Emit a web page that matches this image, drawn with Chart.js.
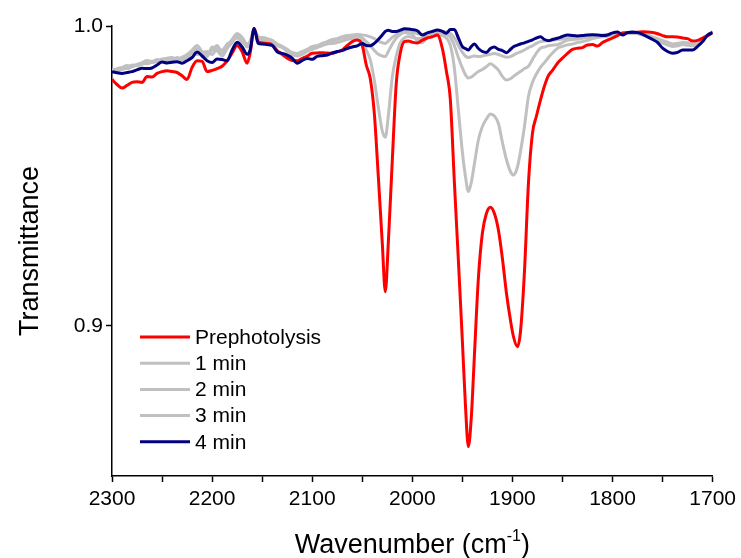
<!DOCTYPE html>
<html>
<head>
<meta charset="utf-8">
<script src="https://cdn.jsdelivr.net/npm/chart.js@4/dist/chart.umd.min.js"></script>
<style>
  html, body { margin: 0; padding: 0; background: #fff; }
  #wrap { width: 741px; height: 558px; position: relative; }
</style>
</head>
<body>
<div id="wrap"><canvas id="ir" width="741" height="558"></canvas></div>
<script>
// IR spectra in the carbonyl region, wavenumber in cm^-1
const wavenumber = [
  2300, 2295, 2290, 2285, 2280, 2275, 2270, 2265, 2260, 2255,
  2250, 2245, 2240, 2235, 2230, 2225, 2220, 2215, 2210, 2205,
  2200, 2195, 2190, 2185, 2180, 2175, 2170, 2165, 2162, 2158,
  2154, 2150, 2145, 2140, 2135, 2130, 2125, 2120, 2115, 2110,
  2105, 2100, 2095, 2090, 2085, 2080, 2075, 2070, 2065, 2060,
  2055, 2050, 2046, 2042, 2038, 2034, 2030, 2027, 2024, 2020,
  2016, 2012, 2008, 2004, 2000, 1995, 1990, 1985, 1980, 1975,
  1970, 1966, 1962, 1958, 1954, 1950, 1947, 1944, 1941, 1938,
  1934, 1930, 1926, 1922, 1918, 1914, 1910, 1906, 1902, 1899,
  1895, 1892, 1888, 1884, 1880, 1876, 1872, 1868, 1864, 1860,
  1855, 1850, 1845, 1840, 1835, 1830, 1825, 1820, 1815, 1810,
  1805, 1800, 1795, 1790, 1785, 1780, 1775, 1770, 1765, 1760,
  1755, 1750, 1745, 1740, 1735, 1730, 1725, 1720, 1715, 1710,
  1705, 1700
];

const prephotolysis = [
  0.9822, 0.9805, 0.9793, 0.9802, 0.9812, 0.9814, 0.9812, 0.9832, 0.9830, 0.9842,
  0.9848, 0.9851, 0.9848, 0.9845, 0.9834, 0.9822, 0.9862, 0.9884, 0.9882, 0.9848,
  0.9852, 0.9858, 0.9866, 0.9884, 0.9910, 0.9935, 0.9914, 0.9876, 0.9910, 0.9992,
  0.9948, 0.9944, 0.9942, 0.9937, 0.9918, 0.9905, 0.9893, 0.9885, 0.9884, 0.9892,
  0.9900, 0.9909, 0.9910, 0.9911, 0.9910, 0.9909, 0.9914, 0.9920, 0.9935, 0.9948,
  0.9953, 0.9935, 0.9870, 0.9825, 0.9710, 0.9500, 0.9276, 0.9114, 0.9276, 0.9553,
  0.9810, 0.9910, 0.9948, 0.9950, 0.9946, 0.9943, 0.9953, 0.9960, 0.9964, 0.9970,
  0.9925, 0.9850, 0.9753, 0.9480, 0.9220, 0.8950, 0.8740, 0.8598, 0.8700, 0.8900,
  0.9160, 0.9310, 0.9375, 0.9396, 0.9375, 0.9320, 0.9225, 0.9110, 0.9020, 0.8965,
  0.8931, 0.8980, 0.9180, 0.9476, 0.9642, 0.9700, 0.9753, 0.9800, 0.9835, 0.9852,
  0.9876, 0.9893, 0.9909, 0.9922, 0.9926, 0.9928, 0.9937, 0.9938, 0.9933, 0.9945,
  0.9953, 0.9960, 0.9968, 0.9977, 0.9978, 0.9978, 0.9979, 0.9981, 0.9980, 0.9978,
  0.9974, 0.9968, 0.9964, 0.9964, 0.9963, 0.9960, 0.9958, 0.9950, 0.9952, 0.9960,
  0.9968, 0.9978
];

const min1 = [
  0.9852, 0.9858, 0.9862, 0.9868, 0.9866, 0.9872, 0.9876, 0.9874, 0.9880, 0.9884,
  0.9886, 0.9884, 0.9890, 0.9892, 0.9888, 0.9896, 0.9910, 0.9925, 0.9905, 0.9898,
  0.9930, 0.9918, 0.9900, 0.9925, 0.9945, 0.9968, 0.9955, 0.9930, 0.9940, 0.9990,
  0.9960, 0.9955, 0.9952, 0.9950, 0.9940, 0.9930, 0.9915, 0.9910, 0.9905, 0.9912,
  0.9918, 0.9922, 0.9928, 0.9935, 0.9940, 0.9942, 0.9945, 0.9950, 0.9955, 0.9958,
  0.9955, 0.9948, 0.9920, 0.9887, 0.9820, 0.9730, 0.9650, 0.9629, 0.9700, 0.9831,
  0.9900, 0.9945, 0.9960, 0.9965, 0.9962, 0.9958, 0.9960, 0.9965, 0.9968, 0.9970,
  0.9968, 0.9960, 0.9935, 0.9860, 0.9720, 0.9580, 0.9500, 0.9448, 0.9480, 0.9540,
  0.9620, 0.9665, 0.9690, 0.9707, 0.9700, 0.9675, 0.9612, 0.9555, 0.9515, 0.9503,
  0.9530, 0.9580, 0.9665, 0.9765, 0.9812, 0.9840, 0.9862, 0.9878, 0.9895, 0.9910,
  0.9926, 0.9932, 0.9937, 0.9940, 0.9945, 0.9948, 0.9952, 0.9958, 0.9962, 0.9964,
  0.9966, 0.9970, 0.9972, 0.9973, 0.9975, 0.9976, 0.9975, 0.9972, 0.9968, 0.9962,
  0.9958, 0.9952, 0.9946, 0.9940, 0.9942, 0.9945, 0.9944, 0.9940, 0.9945, 0.9958,
  0.9970, 0.9982
];

const min2 = [
  0.9856, 0.9850, 0.9855, 0.9860, 0.9870, 0.9868, 0.9872, 0.9880, 0.9878, 0.9882,
  0.9890, 0.9892, 0.9886, 0.9895, 0.9890, 0.9900, 0.9915, 0.9905, 0.9910, 0.9915,
  0.9905, 0.9925, 0.9920, 0.9940, 0.9950, 0.9960, 0.9945, 0.9935, 0.9945, 0.9985,
  0.9965, 0.9958, 0.9955, 0.9948, 0.9935, 0.9928, 0.9918, 0.9905, 0.9900, 0.9905,
  0.9915, 0.9925, 0.9930, 0.9938, 0.9946, 0.9950, 0.9955, 0.9960, 0.9962, 0.9965,
  0.9966, 0.9960, 0.9948, 0.9935, 0.9918, 0.9906, 0.9900, 0.9898, 0.9915, 0.9940,
  0.9960, 0.9972, 0.9978, 0.9976, 0.9972, 0.9950, 0.9945, 0.9965, 0.9975, 0.9978,
  0.9975, 0.9972, 0.9962, 0.9935, 0.9895, 0.9860, 0.9838, 0.9827, 0.9830, 0.9838,
  0.9848, 0.9855, 0.9864, 0.9874, 0.9866, 0.9853, 0.9832, 0.9820, 0.9824, 0.9832,
  0.9842, 0.9848, 0.9858, 0.9866, 0.9888, 0.9910, 0.9926, 0.9930, 0.9934, 0.9936,
  0.9938, 0.9945, 0.9953, 0.9955, 0.9957, 0.9959, 0.9962, 0.9966, 0.9967, 0.9968,
  0.9970, 0.9972, 0.9973, 0.9975, 0.9976, 0.9976, 0.9974, 0.9970, 0.9966, 0.9958,
  0.9950, 0.9944, 0.9936, 0.9932, 0.9934, 0.9938, 0.9936, 0.9934, 0.9942, 0.9955,
  0.9968, 0.9980
];

const min3 = [
  0.9850, 0.9855, 0.9860, 0.9858, 0.9864, 0.9870, 0.9878, 0.9885, 0.9882, 0.9888,
  0.9885, 0.9893, 0.9895, 0.9890, 0.9896, 0.9905, 0.9920, 0.9935, 0.9915, 0.9908,
  0.9920, 0.9935, 0.9910, 0.9930, 0.9955, 0.9975, 0.9962, 0.9940, 0.9950, 0.9988,
  0.9955, 0.9962, 0.9958, 0.9952, 0.9940, 0.9932, 0.9922, 0.9912, 0.9908, 0.9915,
  0.9922, 0.9932, 0.9935, 0.9942, 0.9948, 0.9955, 0.9958, 0.9964, 0.9968, 0.9970,
  0.9972, 0.9970, 0.9968, 0.9964, 0.9958, 0.9950, 0.9944, 0.9942, 0.9950, 0.9962,
  0.9972, 0.9980, 0.9984, 0.9982, 0.9980, 0.9975, 0.9972, 0.9976, 0.9980, 0.9984,
  0.9982, 0.9980, 0.9975, 0.9960, 0.9935, 0.9912, 0.9900, 0.9895, 0.9898, 0.9900,
  0.9898, 0.9900, 0.9903, 0.9906, 0.9908, 0.9905, 0.9900, 0.9896, 0.9898, 0.9903,
  0.9910, 0.9914, 0.9920, 0.9928, 0.9934, 0.9942, 0.9948, 0.9950, 0.9952, 0.9953,
  0.9955, 0.9957, 0.9959, 0.9960, 0.9961, 0.9962, 0.9964, 0.9966, 0.9968, 0.9970,
  0.9972, 0.9974, 0.9975, 0.9976, 0.9977, 0.9977, 0.9976, 0.9973, 0.9970, 0.9964,
  0.9956, 0.9948, 0.9942, 0.9938, 0.9940, 0.9942, 0.9940, 0.9938, 0.9946, 0.9958,
  0.9970, 0.9980
];

const min4 = [
  0.9848, 0.9844, 0.9842, 0.9845, 0.9848, 0.9854, 0.9859, 0.9858, 0.9860, 0.9870,
  0.9880, 0.9877, 0.9879, 0.9881, 0.9876, 0.9884, 0.9895, 0.9913, 0.9900, 0.9884,
  0.9878, 0.9890, 0.9888, 0.9884, 0.9920, 0.9946, 0.9930, 0.9906, 0.9920, 0.9992,
  0.9942, 0.9940, 0.9938, 0.9935, 0.9914, 0.9909, 0.9903, 0.9893, 0.9876, 0.9885,
  0.9892, 0.9889, 0.9899, 0.9901, 0.9903, 0.9910, 0.9915, 0.9918, 0.9925, 0.9930,
  0.9934, 0.9942, 0.9935, 0.9934, 0.9942, 0.9955, 0.9970, 0.9982, 0.9986, 0.9982,
  0.9982, 0.9986, 0.9991, 0.9990, 0.9988, 0.9984, 0.9970, 0.9977, 0.9982, 0.9987,
  0.9982, 0.9976, 0.9988, 0.9988, 0.9960, 0.9931, 0.9925, 0.9920, 0.9932, 0.9940,
  0.9925, 0.9915, 0.9912, 0.9925, 0.9930, 0.9922, 0.9918, 0.9911, 0.9922, 0.9931,
  0.9936, 0.9940, 0.9944, 0.9949, 0.9954, 0.9960, 0.9964, 0.9955, 0.9951, 0.9955,
  0.9959, 0.9965, 0.9970, 0.9968, 0.9967, 0.9968, 0.9970, 0.9971, 0.9970, 0.9968,
  0.9970, 0.9977, 0.9980, 0.9970, 0.9978, 0.9980, 0.9978, 0.9972, 0.9964, 0.9955,
  0.9945, 0.9926, 0.9915, 0.9909, 0.9912, 0.9920, 0.9920, 0.9920, 0.9932, 0.9948,
  0.9970, 0.9978
];

const yTickValues = [0.9, 1.0];
const seriesLabels = ['Prephotolysis', '1 min', '2 min', '3 min', '4 min'];

const RED = '#ff0000';
const GREY = '#c0c0c0';
const NAVY = '#000080';
const FONT = '"Liberation Sans", Arial, Helvetica, sans-serif';

const toPoints = (vals) => vals.map((v, i) => ({ x: wavenumber[i], y: v }));

function lineSet(label, vals, color, order) {
  return {
    label,
    data: toPoints(vals),
    borderColor: color,
    backgroundColor: color,
    borderWidth: 3,
    pointRadius: 0,
    fill: false,
    cubicInterpolationMode: 'monotone',
    order
  };
}

// legend block inside the plot, plus both axis titles
const decorations = {
  id: 'decorations',
  afterDraw(chart) {
    const ctx = chart.ctx;
    ctx.save();
    // legend
    const rows = [
      [seriesLabels[0], RED], [seriesLabels[1], GREY], [seriesLabels[2], GREY],
      [seriesLabels[3], GREY], [seriesLabels[4], NAVY]
    ];
    ctx.font = '21px ' + FONT;
    ctx.textBaseline = 'middle';
    ctx.textAlign = 'left';
    rows.forEach(([txt, col], i) => {
      const y = 337 + i * 26.2;
      ctx.strokeStyle = col;
      ctx.lineWidth = 3;
      ctx.beginPath();
      ctx.moveTo(140, y);
      ctx.lineTo(190, y);
      ctx.stroke();
      ctx.fillStyle = '#000';
      ctx.fillText(txt, 195, y + 1);
    });

    // y title
    const area = chart.chartArea;
    ctx.font = '27px ' + FONT;
    ctx.fillStyle = '#000';
    ctx.textBaseline = 'alphabetic';
    ctx.textAlign = 'center';
    ctx.save();
    ctx.translate(38, (area.top + area.bottom) / 2);
    ctx.rotate(-Math.PI / 2);
    ctx.fillText('Transmittance', 0, 0);
    ctx.restore();

    // x title with superscript
    const main = 'Wavenumber (cm';
    const sup = '-1';
    const close = ')';
    ctx.font = '27px ' + FONT;
    const wMain = ctx.measureText(main).width;
    const wClose = ctx.measureText(close).width;
    ctx.font = '16px ' + FONT;
    const wSup = ctx.measureText(sup).width;
    const total = wMain + wSup + wClose;
    let x = (area.left + area.right) / 2 - total / 2;
    const base = 553;
    ctx.textAlign = 'left';
    ctx.font = '27px ' + FONT;
    ctx.fillText(main, x, base);
    x += wMain;
    ctx.font = '16px ' + FONT;
    ctx.fillText(sup, x, base - 12);
    x += wSup;
    ctx.font = '27px ' + FONT;
    ctx.fillText(close, x, base);
    ctx.restore();
  }
};

new Chart(document.getElementById('ir'), {
  type: 'line',
  data: {
    datasets: [
      lineSet(seriesLabels[0], prephotolysis, RED, 1),
      lineSet(seriesLabels[1], min1, GREY, 2),
      lineSet(seriesLabels[2], min2, GREY, 2),
      lineSet(seriesLabels[3], min3, GREY, 2),
      lineSet(seriesLabels[4], min4, NAVY, 0)
    ]
  },
  options: {
    responsive: false,
    animation: false,
    devicePixelRatio: 1,
    layout: { padding: { left: 0, top: 26, right: 28, bottom: 0 } },
    plugins: {
      legend: { display: false },
      tooltip: { enabled: false }
    },
    scales: {
      x: {
        type: 'linear',
        min: 1700,
        max: 2300,
        reverse: true,
        afterFit(scale) { scale.height = 82; },
        border: { display: true, color: '#000', width: 1.5 },
        grid: { display: true, drawOnChartArea: false, drawTicks: true, tickLength: 6, tickColor: '#000', tickWidth: 1.5 },
        ticks: {
          stepSize: 50,
          autoSkip: false,
          maxRotation: 0,
          padding: 5,
          color: '#000',
          font: { family: FONT, size: 21 },
          callback: (v) => (v % 100 === 0 ? String(v) : '')
        }
      },
      y: {
        type: 'linear',
        min: 0.85,
        max: 1.0,
        afterFit(scale) { scale.width = 112; },
        afterBuildTicks(scale) { scale.ticks = yTickValues.map(v => ({ value: v })); },
        border: { display: true, color: '#000', width: 1.5 },
        grid: { display: true, drawOnChartArea: false, drawTicks: true, tickLength: 6, tickColor: '#000', tickWidth: 1.5 },
        ticks: {
          padding: 3,
          color: '#000',
          font: { family: FONT, size: 21 },
          callback: (v) => Number(v).toFixed(1)
        }
      }
    }
  },
  plugins: [decorations]
});
</script>
</body>
</html>
